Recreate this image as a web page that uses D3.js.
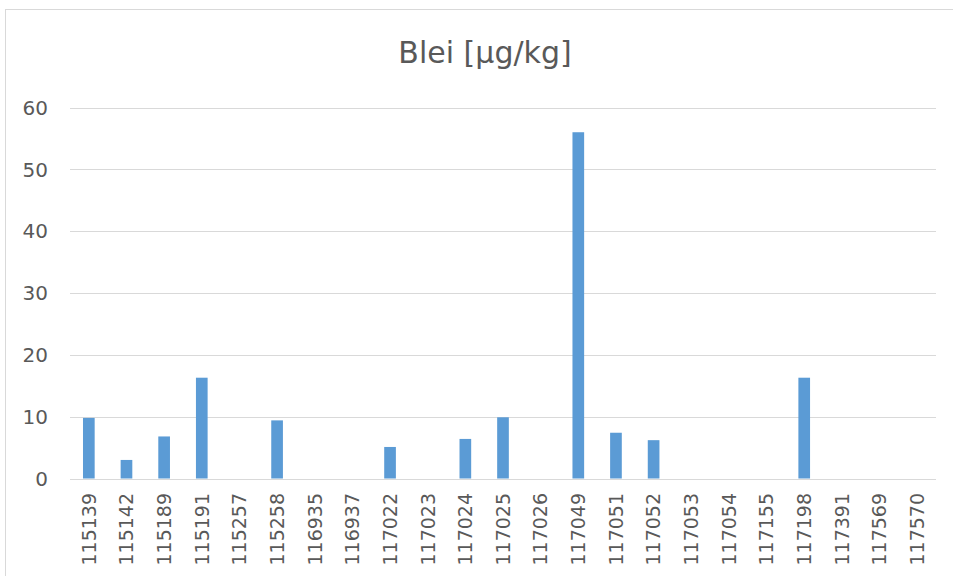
<!DOCTYPE html>
<html>
<head>
<meta charset="utf-8">
<script src="https://cdn.jsdelivr.net/npm/d3@7"></script>
<style>
  body { margin: 0; background: #fff; }
  svg { display: block; }
  text { font-family: "DejaVu Sans", sans-serif; fill: #595959; }
</style>
</head>
<body>
<svg id="chart" width="953" height="576"></svg>
<script>
(function () {
    'use strict';

    const WIDTH = 953;
    const HEIGHT = 576;

    // sample ids and lead values (µg/kg), blank = no value
    const samples = ["115139", "115142", "115189", "115191", "115257", "115258",
        "116935", "116937", "117022", "117023", "117024", "117025", "117026",
        "117049", "117051", "117052", "117053", "117054", "117155", "117198",
        "117391", "117569", "117570"];
    const lead = [9.8, 3.0, 6.8, 16.3, null, 9.4,
        null, null, 5.1, null, 6.4, 9.9, null,
        56, 7.4, 6.2, null, null, null, 16.3,
        null, null, null];
    const yTicks = [0, 10, 20, 30, 40, 50, 60];
    const title = "Blei [µg/kg]";

    var svg = d3.select("#chart");

    // chart area frame (right and bottom run off the picture)
    svg.append("rect")
        .attr("x", 5.5).attr("y", 9.5)
        .attr("width", 960).attr("height", 600)
        .attr("fill", "#fff")
        .attr("stroke", "#d9d9d9");

    var x = d3.scaleBand()
        .domain(samples)
        .range([70, 936])
        .padding(0);

    var y = d3.scaleLinear()
        .domain([0, 60])
        .range([478.5, 107.5]);

    // gridlines
    svg.append("g")
        .selectAll("line")
        .data(yTicks)
        .join("line")
        .attr("x1", 70).attr("x2", 936)
        .attr("y1", d => Math.round(y(d)) + 0.5)
        .attr("y2", d => Math.round(y(d)) + 0.5)
        .attr("stroke", "#d9d9d9")
        .attr("stroke-width", 1.2);

    // y labels
    svg.append("g")
        .selectAll("text")
        .data(yTicks)
        .join("text")
        .attr("x", 48)
        .attr("y", d => y(d))
        .attr("dy", "0.36em")
        .attr("text-anchor", "end")
        .attr("font-size", 20)
        .text(d => d);

    // bars
    var barW = x.bandwidth() * 0.31;
    svg.append("g")
        .selectAll("rect")
        .data(samples.map((s, i) => ({ s: s, v: lead[i] })).filter(d => d.v != null))
        .join("rect")
        .attr("x", d => x(d.s) + (x.bandwidth() - barW) / 2)
        .attr("y", d => y(d.v))
        .attr("width", barW)
        .attr("height", d => y(0) - y(d.v))
        .attr("fill", "#5b9bd5");

    // x labels, rotated
    svg.append("g")
        .selectAll("text")
        .data(samples)
        .join("text")
        .attr("transform", d => `translate(${x(d) + x.bandwidth() / 2},493) rotate(-90)`)
        .attr("dy", "0.36em")
        .attr("text-anchor", "end")
        .attr("font-size", 19)
        .text(d => d);

    // title
    svg.append("text")
        .attr("x", 485)
        .attr("y", 63)
        .attr("text-anchor", "middle")
        .attr("font-size", 30)
        .text(title);
})();
</script>
</body>
</html>
